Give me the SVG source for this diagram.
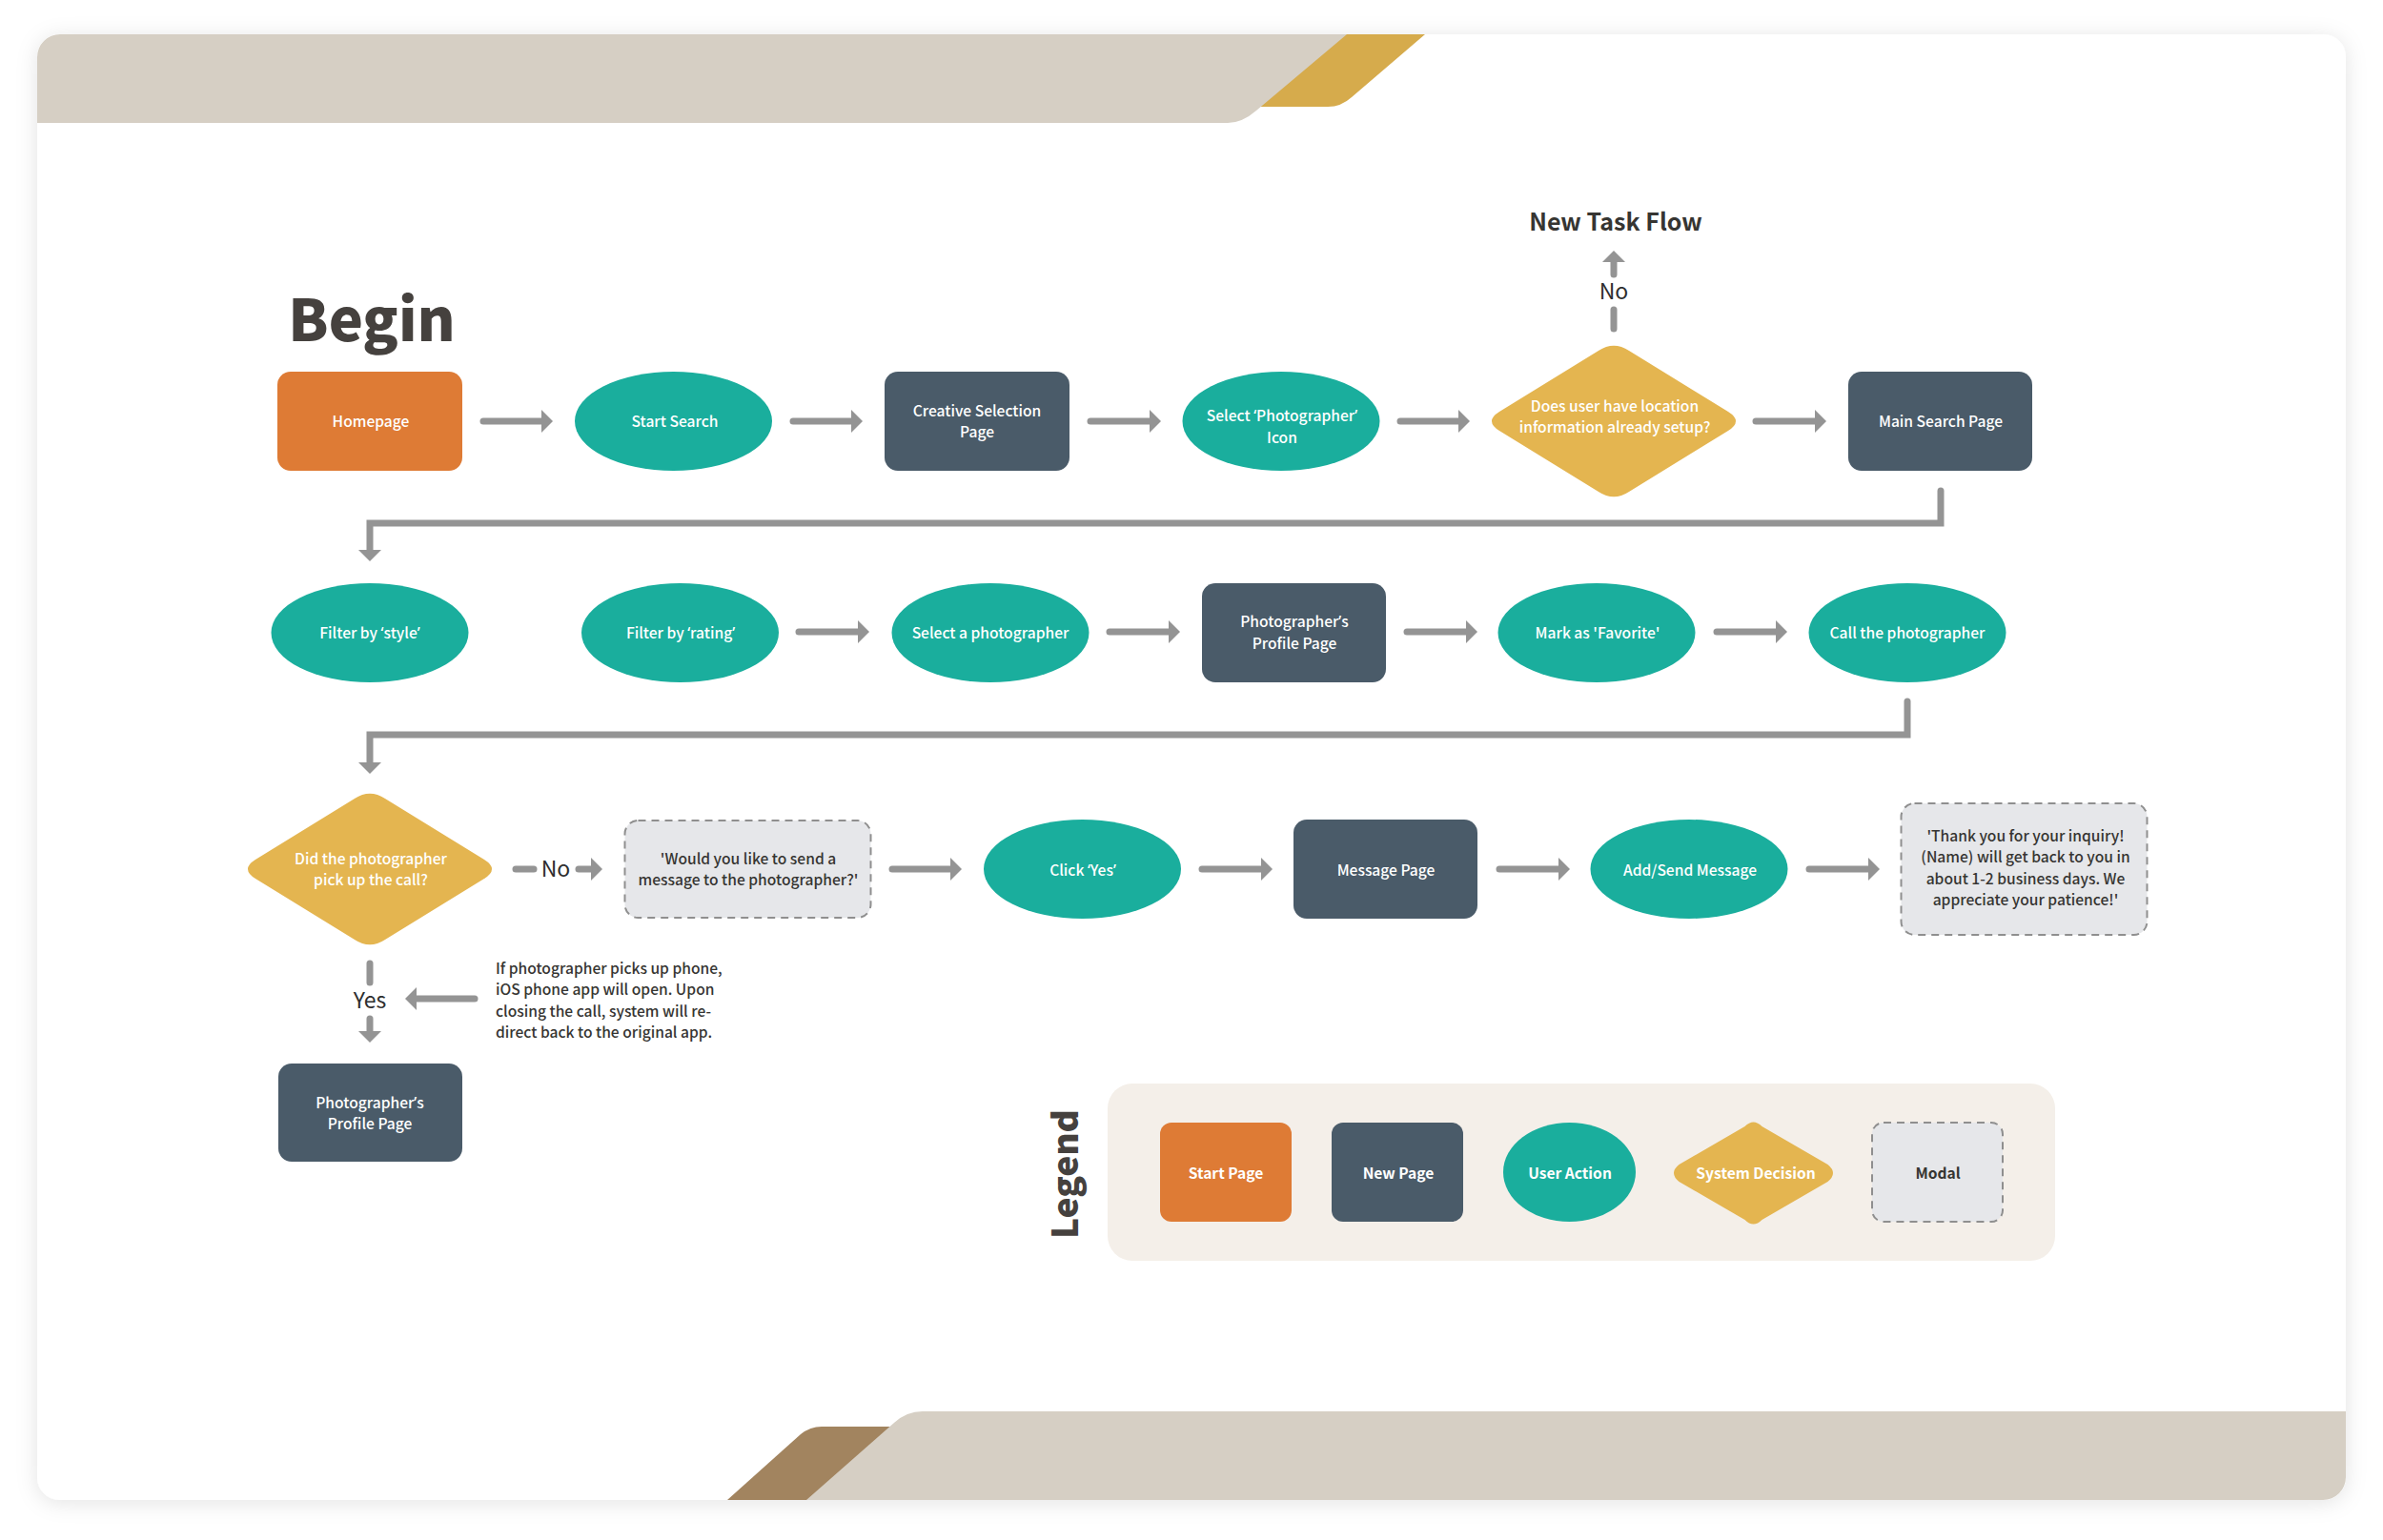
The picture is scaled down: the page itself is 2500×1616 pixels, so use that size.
<svg xmlns="http://www.w3.org/2000/svg" width="2500" height="1616" viewBox="0 0 2500 1616">
<style>
text{font-family:"Noto Sans CJK SC","Source Sans Pro","Noto Sans",sans-serif;text-anchor:middle;font-size:15.6px;font-weight:500}
.q{font-family:"Noto Sans",sans-serif}
.w{fill:#fff}.d{fill:#363532}
.or{fill:#de7b35}.sl{fill:#4a5b69}.te{fill:#1aae9d}.go{fill:#e4b550}
.mo{fill:#e6e7ea;stroke:#8f8f8f;stroke-width:2;stroke-dasharray:8 6}
.a{fill:none;stroke:#949494;stroke-width:7;stroke-linecap:round;marker-end:url(#h)}
.s{fill:none;stroke:#949494;stroke-width:7;stroke-linecap:round}
.e{fill:none;stroke:#949494;stroke-width:7;stroke-linejoin:miter;stroke-linecap:round;marker-end:url(#h)}
.l{font-size:23px;font-weight:400;fill:#2e2e2e}
.lg{font-weight:700}
.n{text-anchor:start;fill:#363532}
</style>
<defs>
<marker id="h" markerUnits="userSpaceOnUse" markerWidth="14" markerHeight="26" refX="0" refY="12" orient="auto"><path d="M0,0L12,12L0,24Z" fill="#949494"/></marker>
<filter id="sh" x="-5%" y="-5%" width="110%" height="110%"><feDropShadow dx="0" dy="3" stdDeviation="11" flood-color="#000" flood-opacity=".11"/></filter>
<path id="dm" d="M-16,-74Q0,-84.5 16,-74L120,-10Q136,0 120,10L16,74Q0,84.5 -16,74L-120,10Q-136,0 -120,-10Z"/>
</defs>
<rect width="2500" height="1616" fill="#fff"/>
<g id="card">
<rect x="39" y="36" width="2422" height="1538" rx="24" fill="#fff" filter="url(#sh)"/>
<path d="M1380,36H1495L1418,102Q1407,112 1393,112H1300Z" fill="#d6ab4c"/>
<path d="M39,129V60A24,24 0 0 1 63,36H1413L1318,116Q1303,129 1288,129Z" fill="#d6cfc4"/>
<path d="M763,1574L840,1505Q850,1497 862,1497H960L900,1574Z" fill="#a2845f"/>
<path d="M846,1574L938,1493Q951,1481 968,1481H2461V1550A24,24 0 0 1 2437,1574Z" fill="#d6cfc4"/>
</g>
<g id="connectors">
<path class="a" d="M507,442H568"/><path class="a" d="M832,442H893"/><path class="a" d="M1144,442H1206"/><path class="a" d="M1469,442H1530"/><path class="a" d="M1842,442H1904"/>
<path class="s" d="M1693,345V325"/><path class="a" d="M1693,288V275"/>
<path class="e" d="M2036,515V549H388V577"/>
<path class="a" d="M838,663H900"/><path class="a" d="M1164,663H1226"/><path class="a" d="M1476,663H1538"/><path class="a" d="M1801,663H1863"/>
<path class="e" d="M2001,736V771H388V800"/>
<path class="s" d="M541,912H560"/><path class="a" d="M607,912H620"/>
<path class="a" d="M936,912H997"/><path class="a" d="M1261,912H1323"/><path class="a" d="M1573,912H1635"/><path class="a" d="M1898,912H1960"/>
<path class="s" d="M388,1011V1031"/><path class="a" d="M388,1069V1082"/><path class="a" d="M498,1048H437"/>
</g>
<g id="title-begin"><text x="390" y="358" style="font-size:61px;font-weight:900;fill:#45413e">Begin</text></g>
<g id="title-new-task"><text x="1695" y="242" style="font-size:25px;font-weight:700;fill:#363532">New Task Flow</text></g>
<text class="l" x="1693" y="314">No</text>
<text class="l" x="583" y="920">No</text>
<text class="l" x="388" y="1058">Yes</text>
<g id="homepage"><rect class="or" x="291" y="390" width="194" height="104" rx="14"/><text class="w" x="389" y="448">Homepage</text></g>
<g id="start-search"><ellipse class="te" cx="706.5" cy="442" rx="103.5" ry="52"/><text class="w" x="708" y="448">Start Search</text></g>
<g id="creative"><rect class="sl" x="928" y="390" width="194" height="104" rx="14"/><text class="w" x="1025" y="437">Creative Selection</text><text class="w" x="1025" y="459">Page</text></g>
<g id="select-photographer"><ellipse class="te" cx="1344" cy="442" rx="103.5" ry="52"/><text class="w" x="1345" y="442">Select <tspan class="q">‘</tspan>Photographer<tspan class="q">’</tspan></text><text class="w" x="1345" y="465">Icon</text></g>
<g id="location-decision"><use href="#dm" class="go" x="1693" y="442"/><text class="w" x="1694" y="432">Does user have location</text><text class="w" x="1694" y="454">information already setup?</text></g>
<g id="main-search"><rect class="sl" x="1939" y="390" width="193" height="104" rx="14"/><text class="w" x="2036" y="448">Main Search Page</text></g>
<g id="filter-style"><ellipse class="te" cx="388" cy="664" rx="103.5" ry="52"/><text class="w" x="388" y="670">Filter by <tspan class="q">‘</tspan>style<tspan class="q">’</tspan></text></g>
<g id="filter-rating"><ellipse class="te" cx="713.5" cy="664" rx="103.5" ry="52"/><text class="w" x="714" y="670">Filter by <tspan class="q">‘</tspan>rating<tspan class="q">’</tspan></text></g>
<g id="select-a-photographer"><ellipse class="te" cx="1039" cy="664" rx="103.5" ry="52"/><text class="w" x="1039" y="670">Select a photographer</text></g>
<g id="profile-1"><rect class="sl" x="1261" y="612" width="193" height="104" rx="14"/><text class="w" x="1358" y="658">Photographer<tspan class="q">’</tspan>s</text><text class="w" x="1358" y="681">Profile Page</text></g>
<g id="favorite"><ellipse class="te" cx="1675" cy="664" rx="103.5" ry="52"/><text class="w" x="1676" y="670">Mark as 'Favorite'</text></g>
<g id="call"><ellipse class="te" cx="2001" cy="664" rx="103.5" ry="52"/><text class="w" x="2001" y="670">Call the photographer</text></g>
<g id="pickup-decision"><use href="#dm" class="go" x="388" y="912"/><text class="w" x="389" y="907">Did the photographer</text><text class="w" x="389" y="929">pick up the call?</text></g>
<g id="modal-1"><rect class="mo" x="655.5" y="861" width="258" height="102" rx="14"/><text class="d" x="785" y="907">'Would you like to send a</text><text class="d" x="785" y="929">message to the photographer?'</text></g>
<g id="click-yes"><ellipse class="te" cx="1135.5" cy="912" rx="103.5" ry="52"/><text class="w" x="1136" y="919">Click <tspan class="q">‘</tspan>Yes<tspan class="q">’</tspan></text></g>
<g id="message-page"><rect class="sl" x="1357" y="860" width="193" height="104" rx="14"/><text class="w" x="1454" y="919">Message Page</text></g>
<g id="add-send"><ellipse class="te" cx="1772" cy="912" rx="103.5" ry="52"/><text class="w" x="1773" y="919">Add/Send Message</text></g>
<g id="modal-2"><rect class="mo" x="1994.5" y="843" width="258" height="138" rx="14"/><text class="d" x="2125" y="883">'Thank you for your inquiry!</text><text class="d" x="2125" y="905">(Name) will get back to you in</text><text class="d" x="2125" y="928">about 1-2 business days. We</text><text class="d" x="2125" y="950">appreciate your patience!'</text></g>
<g id="note"><text class="n" x="520" y="1022">If photographer picks up phone,</text><text class="n" x="520" y="1044">iOS phone app will open. Upon</text><text class="n" x="520" y="1067">closing the call, system will re-</text><text class="n" x="520" y="1089">direct back to the original app.</text></g>
<g id="profile-2"><rect class="sl" x="292" y="1116" width="193" height="103" rx="14"/><text class="w" x="388" y="1163">Photographer<tspan class="q">’</tspan>s</text><text class="w" x="388" y="1185">Profile Page</text></g>
<g id="legend">
<rect x="1162" y="1137" width="994" height="186" rx="26" fill="#f4efe9"/>
<text transform="translate(1131,1232) rotate(-90)" style="font-size:37px;font-weight:900;fill:#45413e">Legend</text>
<g id="legend-start"><rect class="or" x="1217" y="1178" width="138" height="104" rx="12"/><text class="w lg" x="1286" y="1237">Start Page</text></g>
<g id="legend-new"><rect class="sl" x="1397" y="1178" width="138" height="104" rx="12"/><text class="w lg" x="1467" y="1237">New Page</text></g>
<g id="legend-user"><ellipse class="te" cx="1646.5" cy="1230" rx="69.5" ry="52"/><text class="w lg" x="1647" y="1237">User Action</text></g>
<g id="legend-decision"><path class="go" transform="translate(1839.5,1231)" d="M-9,-49Q0,-58 9,-49L78,-9Q89,0 78,9L9,49Q0,58 -9,49L-78,9Q-89,0 -78,-9Z"/><text class="w lg" x="1842" y="1237">System Decision</text></g>
<g id="legend-modal"><rect class="mo" x="1964" y="1178" width="137" height="104" rx="12"/><text class="d lg" x="2033" y="1237">Modal</text></g>
</g>
</svg>
